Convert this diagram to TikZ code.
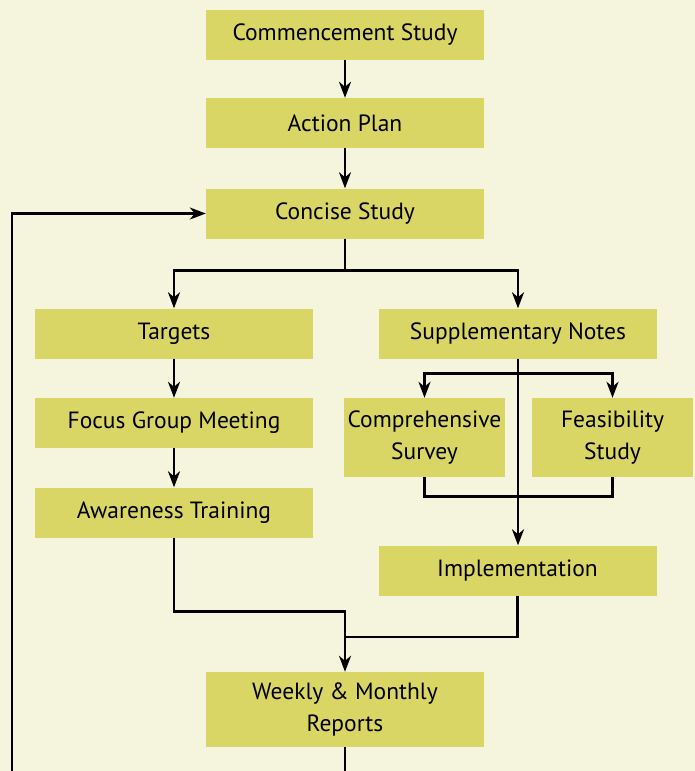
\documentclass[tikz,border=0pt]{standalone}
\usepackage{fontspec}
\setmainfont{PT Sans}
\usetikzlibrary{arrows.meta}
\definecolor{bg}{RGB}{244,245,220}
\definecolor{boxc}{RGB}{217,214,102}

\begin{document}
\begin{tikzpicture}[x=1pt,y=-1pt]
\tikzstyle{blk}=[fill=boxc,minimum width=278pt,minimum height=50pt,inner sep=0pt,align=center,font=\fontsize{23.5}{32}\selectfont];
\tikzstyle{sml}=[blk,minimum width=161pt,minimum height=79pt];
\tikzstyle{ln}=[line width=2.6pt];
\tikzstyle{dir}=[ln,-{Stealth[length=16pt,width=12pt,inset=5pt]}];
\fill [bg] (0,0) rectangle (695,771);
\clip (0,0) rectangle (695,771);
\node [blk] (cs) at (345,35) {Commencement Study};
\node [blk] (ap) at (345,123) {Action Plan};
\node [blk] (conc) at (345,213.5) {Concise Study};
\node [blk] (tg) at (174,333.5) {Targets};
\node [blk] (sn) at (518,333.5) {Supplementary Notes};
\node [blk] (fg) at (174,423) {Focus Group Meeting};
\node [blk] (awt) at (174,512.5) {Awareness Training};
\node [sml] (cms) at (424.5,437.5) {Comprehensive\\Survey};
\node [sml] (fs) at (612.5,437.5) {Feasibility\\Study};
\node [blk] (im) at (517.5,570.5) {Implementation};
\node [blk,minimum height=75pt] (wr) at (345,709.5) {Weekly \& Monthly\\Reports};
\coordinate (lp) at (12,790);
\draw [dir] (cs) -- (ap);
\draw [dir] (ap) -- (conc);
\draw [dir] (conc.south) -- ++(0,32) -| (tg.north);
\draw [dir] (conc.south) -- ++(0,32) -| (sn.north);
\draw [dir] (tg) -- (fg);
\draw [dir] (fg) -- (awt);
\draw [dir] (sn.south) -- (sn.south |- im.north);
\draw [dir] ([yshift=-15pt]sn.south) -| (cms.north);
\draw [dir] ([yshift=-15pt]sn.south) -| (fs.north);
\draw [ln] (cms.south) -- ++(0,19) -| (fs.south);
\draw [dir] (awt.south) -- ++(0,74) -| (wr.north);
\draw [ln] (im.south) |- ([yshift=35pt]wr.north);
\draw [dir] (wr.south) |- (lp) |- (conc.west);
\end{tikzpicture}
\end{document}
